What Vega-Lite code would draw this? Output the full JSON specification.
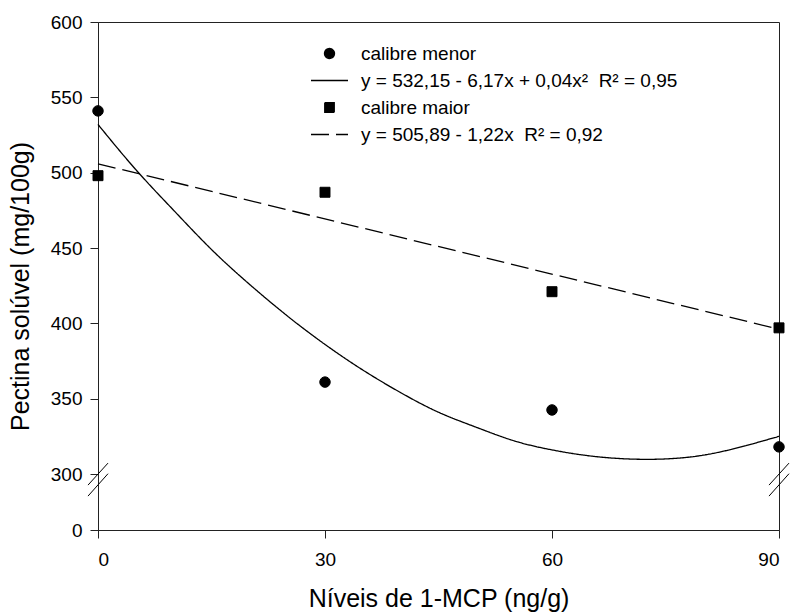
{
  "$schema": "https://vega.github.io/schema/vega-lite/v6.json",
  "autosize": {"type": "none"},
  "padding": {"left": 98, "top": 22, "right": 12, "bottom": 86},
  "width": 681,
  "height": 508,
  "config": {
    "font": "Liberation Sans",
    "view": {"stroke": "#222", "strokeWidth": 1},
    "axis": {
      "grid": false,
      "domainColor": "#222",
      "tickColor": "#222",
      "tickSize": 8,
      "labelFontSize": 19,
      "labelColor": "#000",
      "titleFontSize": 25,
      "titleFontWeight": "normal",
      "titleColor": "#000"
    },
    "legend": {
      "labelFontSize": 19,
      "labelColor": "#000",
      "labelLimit": 500,
      "padding": 0,
      "rowPadding": 7,
      "labelOffset": 22,
      "symbolFillColor": "black",
      "symbolStrokeColor": "black",
      "symbolOpacity": 1
    }
  },
  "layer": [
    {
      "data": {"values": [
        {"x": 0, "y": 532, "label": "y = 532,15 - 6,17x + 0,04x²\u00a0 R² = 0,95"},
        {"x": 5, "y": 502, "label": "y = 532,15 - 6,17x + 0,04x²\u00a0 R² = 0,95"},
        {"x": 10, "y": 475, "label": "y = 532,15 - 6,17x + 0,04x²\u00a0 R² = 0,95"},
        {"x": 15, "y": 449, "label": "y = 532,15 - 6,17x + 0,04x²\u00a0 R² = 0,95"},
        {"x": 20, "y": 426, "label": "y = 532,15 - 6,17x + 0,04x²\u00a0 R² = 0,95"},
        {"x": 25, "y": 405, "label": "y = 532,15 - 6,17x + 0,04x²\u00a0 R² = 0,95"},
        {"x": 30, "y": 386, "label": "y = 532,15 - 6,17x + 0,04x²\u00a0 R² = 0,95"},
        {"x": 35, "y": 369, "label": "y = 532,15 - 6,17x + 0,04x²\u00a0 R² = 0,95"},
        {"x": 40, "y": 354, "label": "y = 532,15 - 6,17x + 0,04x²\u00a0 R² = 0,95"},
        {"x": 45, "y": 341, "label": "y = 532,15 - 6,17x + 0,04x²\u00a0 R² = 0,95"},
        {"x": 50, "y": 331, "label": "y = 532,15 - 6,17x + 0,04x²\u00a0 R² = 0,95"},
        {"x": 55, "y": 322, "label": "y = 532,15 - 6,17x + 0,04x²\u00a0 R² = 0,95"},
        {"x": 60, "y": 316, "label": "y = 532,15 - 6,17x + 0,04x²\u00a0 R² = 0,95"},
        {"x": 65, "y": 312, "label": "y = 532,15 - 6,17x + 0,04x²\u00a0 R² = 0,95"},
        {"x": 70, "y": 310, "label": "y = 532,15 - 6,17x + 0,04x²\u00a0 R² = 0,95"},
        {"x": 75, "y": 310, "label": "y = 532,15 - 6,17x + 0,04x²\u00a0 R² = 0,95"},
        {"x": 80, "y": 312.5, "label": "y = 532,15 - 6,17x + 0,04x²\u00a0 R² = 0,95"},
        {"x": 85, "y": 318, "label": "y = 532,15 - 6,17x + 0,04x²\u00a0 R² = 0,95"},
        {"x": 90, "y": 325, "label": "y = 532,15 - 6,17x + 0,04x²\u00a0 R² = 0,95"},
        {"x": 0, "y": 505.89, "label": "y = 505,89 - 1,22x\u00a0 R² = 0,92"},
        {"x": 90, "y": 396.09, "label": "y = 505,89 - 1,22x\u00a0 R² = 0,92"}
      ]},
      "mark": {"type": "line", "color": "black", "strokeWidth": 1.3, "interpolate": "natural"},
      "encoding": {
        "x": {"field": "x", "type": "quantitative"},
        "y": {"field": "y", "type": "quantitative"},
        "strokeDash": {
          "field": "label",
          "type": "nominal",
          "scale": {
            "domain": ["calibre menor", "y = 532,15 - 6,17x + 0,04x²\u00a0 R² = 0,95", "calibre maior", "y = 505,89 - 1,22x\u00a0 R² = 0,92"],
            "range": [[1, 0], [1, 0], [1, 0], [18, 7]]
          },
          "legend": {"title": null, "orient": "none", "legendX": 222, "legendY": 22, "labelFontSize": 19, "labelLimit": 500,
            "encode": {"symbols": {"update": {"stroke": {"value": "black"}, "strokeWidth": {"value": 1.3}, "fill": {"value": "black"}, "fillOpacity": {"value": 1}, "opacity": {"value": 1}}}}}
        }
      }
    },
    {
      "data": {"values": [
        {"x": 0, "y": 541, "label": "calibre menor"},
        {"x": 30, "y": 361, "label": "calibre menor"},
        {"x": 60, "y": 342.5, "label": "calibre menor"},
        {"x": 90, "y": 318, "label": "calibre menor"},
        {"x": 0, "y": 498, "label": "calibre maior"},
        {"x": 30, "y": 487, "label": "calibre maior"},
        {"x": 60, "y": 421, "label": "calibre maior"},
        {"x": 90, "y": 397, "label": "calibre maior"}
      ]},
      "mark": {"type": "point", "filled": true, "color": "black", "stroke": "black", "strokeWidth": 1, "size": 110, "opacity": 1},
      "encoding": {
        "x": {
          "field": "x", "type": "quantitative",
          "scale": {"domain": [0, 90], "nice": false, "zero": false},
          "axis": {"values": [0, 30, 60, 90], "title": "Níveis de 1-MCP (ng/g)", "labelPadding": 12, "titleY": 76, "titleBaseline": "alphabetic"}
        },
        "y": {
          "field": "y", "type": "quantitative",
          "scale": {"domain": [0, 300, 600], "range": [508, 452, 0], "nice": false, "zero": false},
          "axis": {"values": [0, 300, 350, 400, 450, 500, 550, 600], "format": "d", "title": "Pectina solúvel (mg/100g)", "labelPadding": 8, "titleAngle": -90, "titleX": -70, "titleY": 264, "titleAlign": "center", "titleBaseline": "alphabetic"}
        },
        "shape": {
          "field": "label",
          "type": "nominal",
          "scale": {
            "domain": ["calibre menor", "y = 532,15 - 6,17x + 0,04x²\u00a0 R² = 0,95", "calibre maior", "y = 505,89 - 1,22x\u00a0 R² = 0,92"],
            "range": ["circle", "M-3.7,0L3.7,0", "M-0.95,-0.95H0.95V0.95H-0.95Z", "M-3.7,0L3.7,0"]
          },
          "legend": {"title": null, "orient": "none", "legendX": 222, "legendY": 22, "labelFontSize": 19, "labelLimit": 500,
            "encode": {"symbols": {"update": {"stroke": {"value": "black"}, "strokeWidth": {"value": 1.3}, "fill": {"value": "black"}, "fillOpacity": {"value": 1}, "opacity": {"value": 1}}}}}
        }
      }
    },
    {
      "data": {"values": [{}]},
      "mark": {"type": "point", "filled": false, "stroke": "black", "strokeWidth": 1, "size": 400, "shape": "M-1,0.55L1,-1.65M-1,1.65L1,-0.59", "opacity": 1},
      "encoding": {"x": {"datum": 0, "type": "quantitative"}, "y": {"datum": 270, "type": "quantitative"}}
    },
    {
      "data": {"values": [{}]},
      "mark": {"type": "point", "filled": false, "stroke": "black", "strokeWidth": 1, "size": 400, "shape": "M-1,0.55L1,-1.65M-1,1.65L1,-0.59", "opacity": 1},
      "encoding": {"x": {"datum": 90, "type": "quantitative"}, "y": {"datum": 270, "type": "quantitative"}}
    }
  ]
}
